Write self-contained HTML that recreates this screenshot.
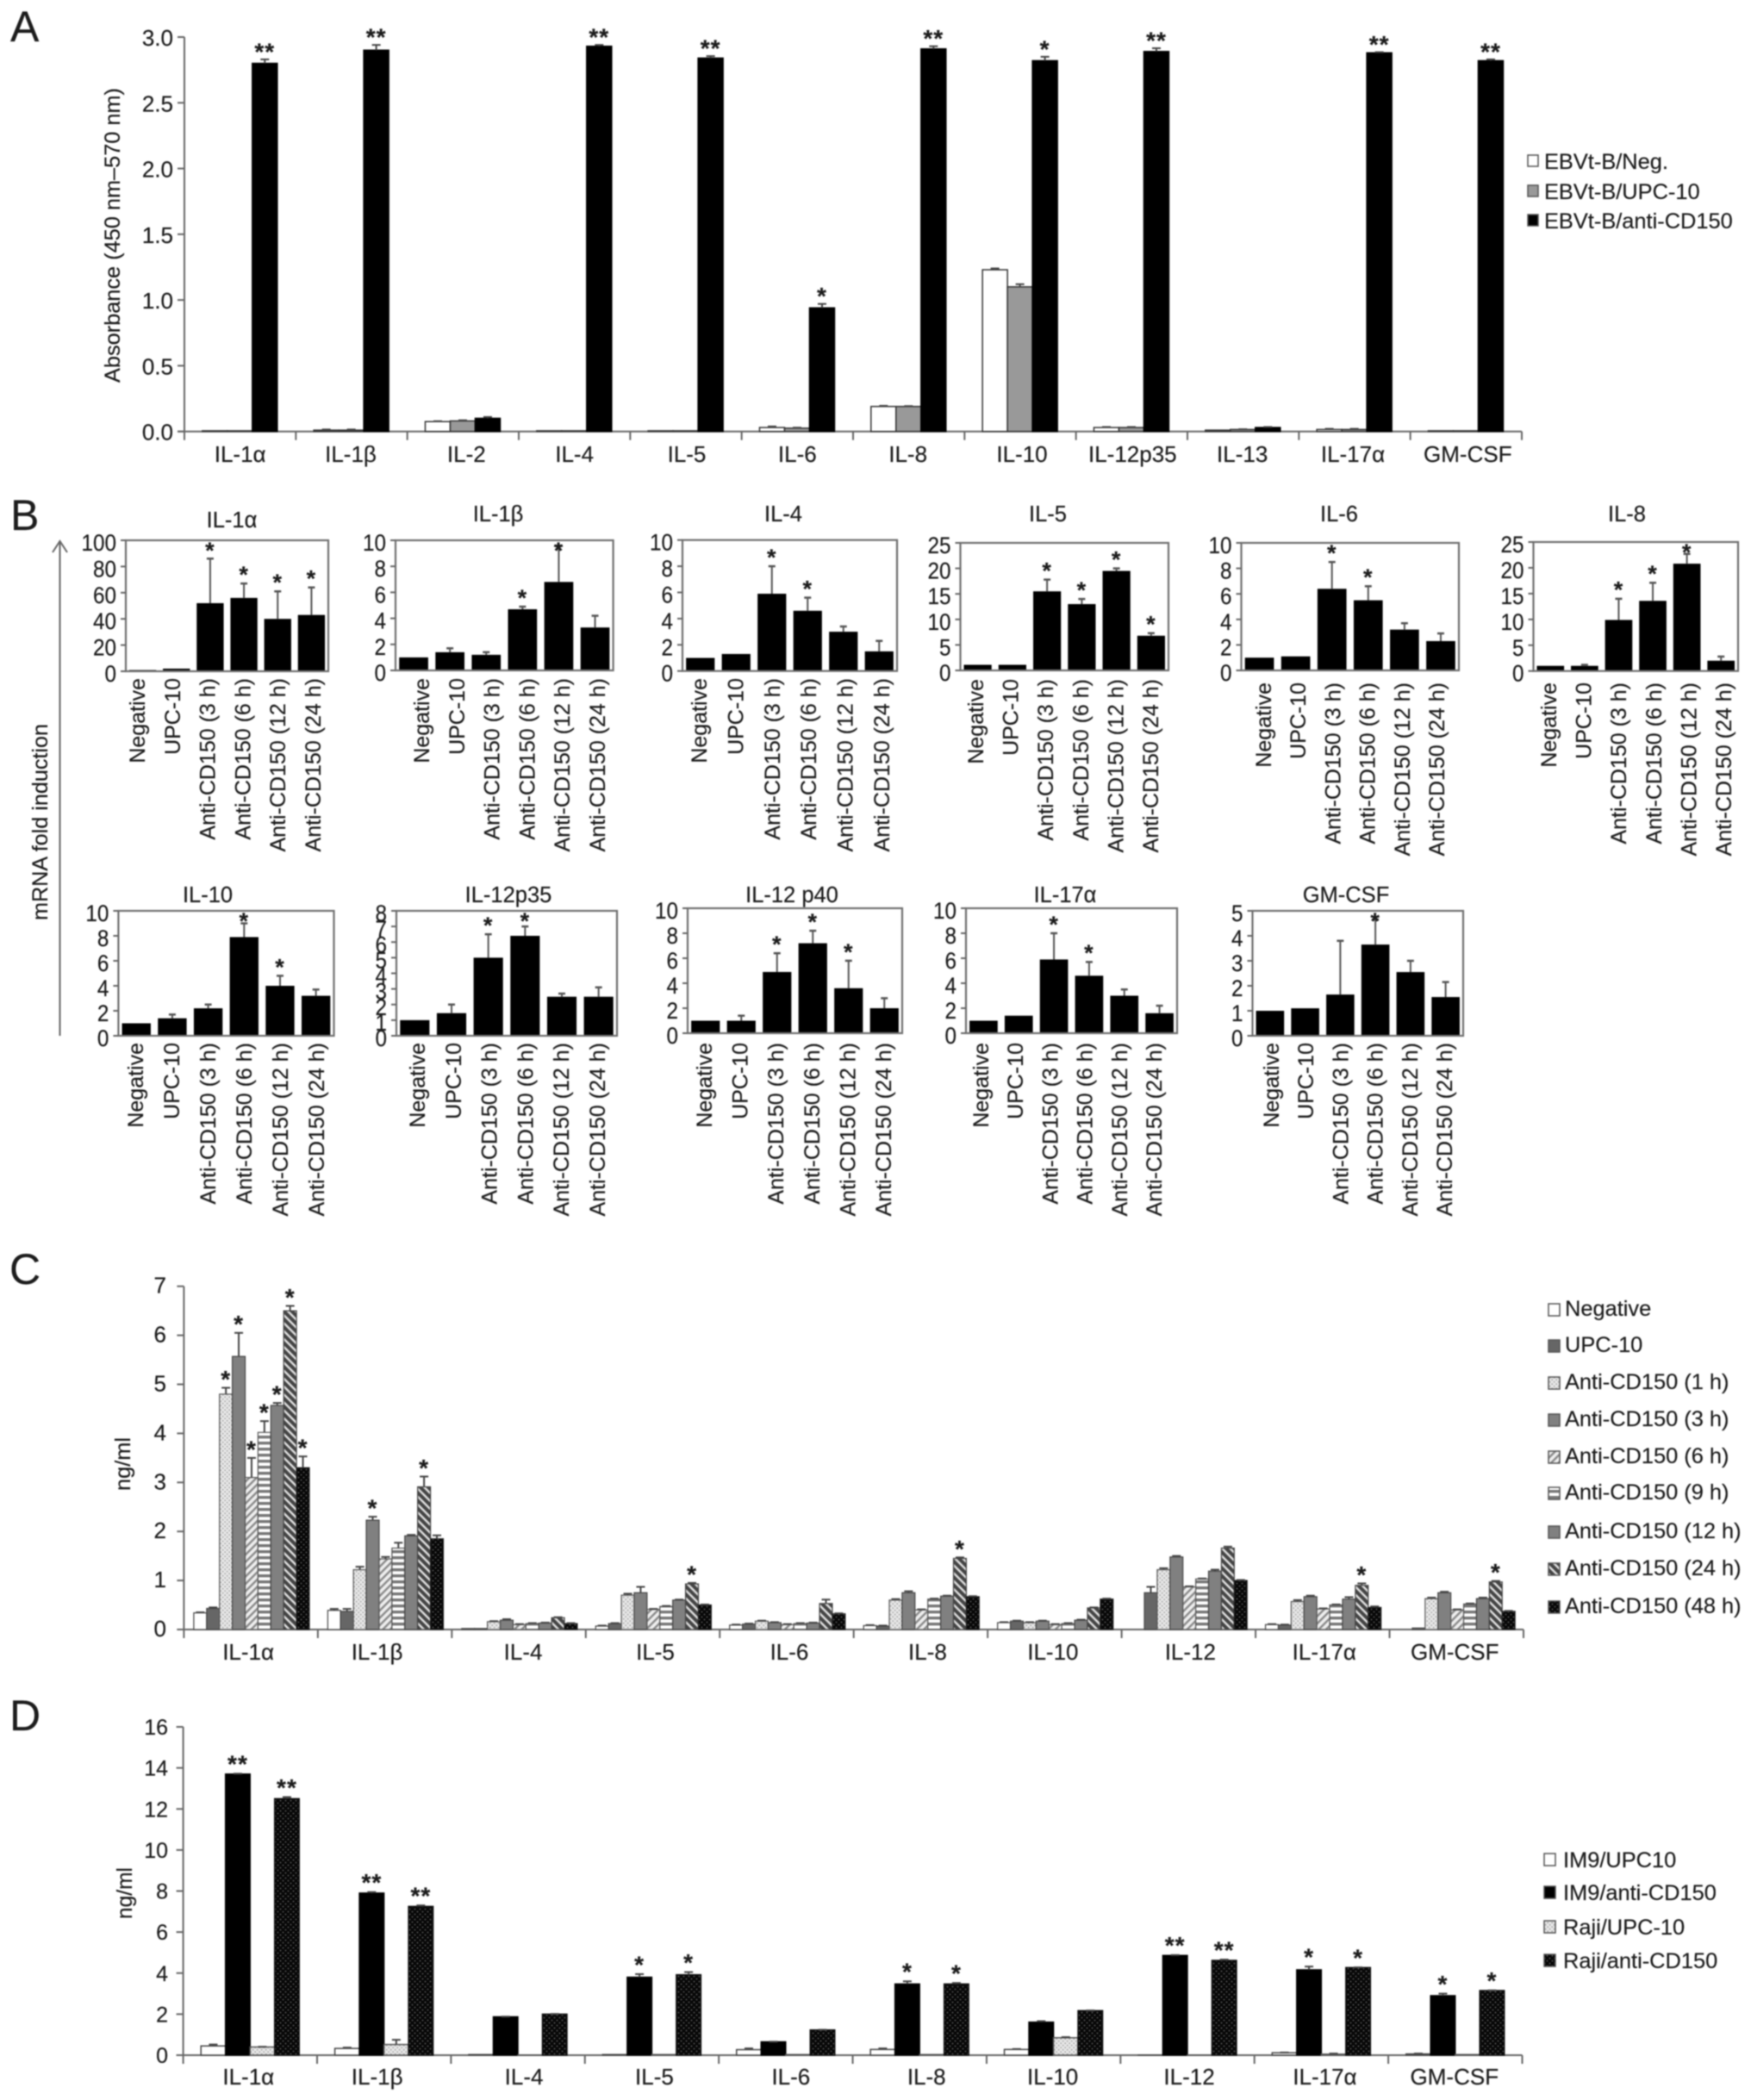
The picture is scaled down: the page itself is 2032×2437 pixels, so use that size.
<!DOCTYPE html>
<html lang="en">
<head>
<meta charset="utf-8">
<title>Cytokine expression after anti-CD150 stimulation</title>
<style>
html,body{margin:0;padding:0;background:#fff;}
#figure{display:block;filter:blur(0.7px);background:#fff;}
text{font-family:"Liberation Sans",Arial,sans-serif;fill:#1c1c1c;stroke:#1c1c1c;stroke-width:0.2px;}
</style>
</head>
<body>
<svg id="figure" xmlns="http://www.w3.org/2000/svg" width="2032" height="2437" viewBox="0 0 2032 2437">
<defs>
<pattern id="p-dots-light" width="5" height="5" patternUnits="userSpaceOnUse"><rect width="5" height="5" fill="#e6e6e6"/><circle cx="1.2" cy="1.2" r="0.8" fill="#999"/><circle cx="3.7" cy="3.7" r="0.8" fill="#999"/></pattern>
<pattern id="p-diag-light" width="6" height="6" patternUnits="userSpaceOnUse" patternTransform="rotate(45)"><rect width="6" height="6" fill="#eee"/><rect width="2.4" height="6" fill="#8a8a8a"/></pattern>
<pattern id="p-hstripe" width="7" height="7" patternUnits="userSpaceOnUse"><rect width="7" height="7" fill="#fff"/><rect width="7" height="3.4" fill="#777"/></pattern>
<pattern id="p-diag-dark" width="6.5" height="6.5" patternUnits="userSpaceOnUse" patternTransform="rotate(-45)"><rect width="6.5" height="6.5" fill="#ddd"/><rect width="4" height="6.5" fill="#444"/></pattern>
<pattern id="p-dots-black" width="6" height="6" patternUnits="userSpaceOnUse"><rect width="6" height="6" fill="#080808"/><circle cx="1.5" cy="1.5" r="0.8" fill="#777"/><circle cx="4.5" cy="4.5" r="0.8" fill="#777"/></pattern>
</defs>
</svg>
<script>
/* ---------- Panel A data ---------- */
const aCategories = ['IL-1α','IL-1β','IL-2','IL-4','IL-5','IL-6','IL-8','IL-10','IL-12p35','IL-13','IL-17α','GM-CSF'];
const aTicks = [0,0.5,1,1.5,2,2.5,3];
const aNeg = [0.005,0.01,0.075,0.005,0.005,0.03,0.19,1.23,0.03,0.01,0.015,0.005];
const aUpc = [0.005,0.01,0.08,0.005,0.005,0.025,0.19,1.10,0.03,0.015,0.015,0.005];
const aAnti = [2.80,2.90,0.10,2.93,2.84,0.94,2.91,2.82,2.89,0.03,2.88,2.82];
const aNegErr = [0,0.005,0.003,0,0,0.008,0.005,0.01,0.004,0,0.005,0];
const aUpcErr = [0,0.005,0.005,0,0,0.004,0.003,0.02,0.004,0.002,0.005,0];
const aAntiErr = [0.03,0.04,0.01,0.01,0.015,0.03,0.02,0.03,0.025,0.004,0.005,0.01];
const aStars = [2,2,0,2,2,1,2,1,2,0,2,2];
const aLegend = ['EBVt-B/Neg.','EBVt-B/UPC-10','EBVt-B/anti-CD150'];

/* ---------- Panel B data ---------- */
const bCategories = ['Negative','UPC-10','Anti-CD150 (3 h)','Anti-CD150 (6 h)','Anti-CD150 (12 h)','Anti-CD150 (24 h)'];
const bIl1aValues = [1,2,52,56,40,43];
const bIl1aErrors = [0,0,34,11,21,21];
const bIl1aStars = [0,0,1,1,1,1];
const bIl1aTicks = [0,20,40,60,80,100];
const bIl1bValues = [1,1.4,1.2,4.7,6.8,3.3];
const bIl1bErrors = [0,0.3,0.2,0.2,2.8,0.9];
const bIl1bStars = [0,0,0,1,1,0];
const bIl1bTicks = [0,2,4,6,8,10];
const bIl4Values = [1,1.3,5.9,4.6,3,1.5];
const bIl4Errors = [0,0,2.1,1,0.4,0.8];
const bIl4Stars = [0,0,1,1,0,0];
const bIl4Ticks = [0,2,4,6,8,10];
const bIl5Values = [1.1,1.1,15.5,13,19.5,6.8];
const bIl5Errors = [0,0,2.3,1,0.5,0.5];
const bIl5Stars = [0,0,1,1,1,1];
const bIl5Ticks = [0,5,10,15,20,25];
const bIl6Values = [1,1.1,6.4,5.5,3.2,2.3];
const bIl6Errors = [0,0,2.1,1.1,0.5,0.6];
const bIl6Stars = [0,0,1,1,0,0];
const bIl6Ticks = [0,2,4,6,8,10];
const bIl8Values = [1,1,9.9,13.6,20.8,2];
const bIl8Errors = [0,0.2,4.1,3.5,1.9,0.8];
const bIl8Stars = [0,0,1,1,1,0];
const bIl8Ticks = [0,5,10,15,20,25];
const bIl10Values = [1,1.4,2.2,7.9,4,3.2];
const bIl10Errors = [0,0.3,0.3,1.1,0.8,0.5];
const bIl10Stars = [0,0,0,1,1,0];
const bIl10Ticks = [0,2,4,6,8,10];
const bP35Values = [1,1.45,5,6.4,2.5,2.5];
const bP35Errors = [0,0.55,1.5,0.6,0.2,0.6];
const bP35Stars = [0,0,1,1,0,0];
const bP35Ticks = [0,1,2,3,4,5,6,7,8];
const bP40Values = [1,1,4.9,7.2,3.6,2];
const bP40Errors = [0,0.4,1.5,1,2.2,0.8];
const bP40Stars = [0,0,1,1,1,0];
const bP40Ticks = [0,2,4,6,8,10];
const bIl17Values = [1,1.4,5.9,4.6,3,1.6];
const bIl17Errors = [0,0,2.1,1.1,0.5,0.6];
const bIl17Stars = [0,0,1,1,0,0];
const bIl17Ticks = [0,2,4,6,8,10];
const bGmValues = [1,1.1,1.65,3.65,2.55,1.55];
const bGmErrors = [0,0,2.15,1,0.45,0.6];
const bGmStars = [0,0,0,1,0,0];
const bGmTicks = [0,1,2,3,4,5];

/* ---------- Panel C data ---------- */
const cCategories = ['IL-1α','IL-1β','IL-4','IL-5','IL-6','IL-8','IL-10','IL-12','IL-17α','GM-CSF'];
const cTicks = [0,1,2,3,4,5,6,7];
const cNegative = [0.34,0.39,0.02,0.07,0.09,0.08,0.14,0,0.1,0];
const cUpc10 = [0.43,0.37,0.02,0.12,0.11,0.07,0.17,0.75,0.09,0.03];
const cH1 = [4.8,1.22,0.16,0.7,0.17,0.6,0.14,1.22,0.57,0.63];
const cH3 = [5.57,2.23,0.19,0.75,0.14,0.75,0.17,1.48,0.67,0.75];
const cH6 = [3.1,1.44,0.1,0.41,0.1,0.4,0.1,0.87,0.42,0.4];
const cH9 = [4.02,1.66,0.12,0.47,0.12,0.62,0.12,1.03,0.5,0.52];
const cH12 = [4.57,1.91,0.13,0.6,0.13,0.68,0.19,1.19,0.62,0.63];
const cH24 = [6.5,2.91,0.24,0.93,0.53,1.45,0.44,1.66,0.9,0.97];
const cH48 = [3.3,1.85,0.12,0.5,0.32,0.67,0.62,1.0,0.45,0.37];
const cNegativeErr = [0.01,0.03,0,0.01,0.01,0.01,0.01,0,0.01,0];
const cUpc10Err = [0.02,0.05,0,0.01,0.01,0.01,0.01,0.12,0.01,0];
const cH1Err = [0.13,0.06,0.01,0.03,0.01,0.02,0.01,0.03,0.03,0.02];
const cH3Err = [0.48,0.07,0.02,0.12,0.01,0.03,0.01,0.02,0.02,0.02];
const cH6Err = [0.4,0.04,0.01,0.01,0.01,0.01,0.01,0.01,0.01,0.01];
const cH9Err = [0.23,0.11,0.01,0.01,0.01,0.01,0.01,0.01,0.01,0.01];
const cH12Err = [0.05,0.02,0.01,0.01,0.01,0.01,0.01,0.03,0.04,0.02];
const cH24Err = [0.1,0.21,0.01,0.02,0.08,0.02,0.01,0.03,0.04,0.02];
const cH48Err = [0.23,0.07,0.01,0.01,0.01,0.01,0.01,0.01,0.02,0.01];
const cNoStars = [0,0,0,0,0,0,0,0,0,0];
const cH1Stars = [1,0,0,0,0,0,0,0,0,0];
const cH3Stars = [1,1,0,0,0,0,0,0,0,0];
const cH6Stars = [1,0,0,0,0,0,0,0,0,0];
const cH9Stars = [1,0,0,0,0,0,0,0,0,0];
const cH12Stars = [1,0,0,0,0,0,0,0,0,0];
const cH24Stars = [1,1,0,1,0,1,0,0,1,1];
const cH48Stars = [1,0,0,0,0,0,0,0,0,0];
const cLegend = ['Negative','UPC-10','Anti-CD150 (1 h)','Anti-CD150 (3 h)','Anti-CD150 (6 h)','Anti-CD150 (9 h)','Anti-CD150 (12 h)','Anti-CD150 (24 h)','Anti-CD150 (48 h)'];

/* ---------- Panel D data ---------- */
const dCategories = ['IL-1α','IL-1β','IL-4','IL-5','IL-6','IL-8','IL-10','IL-12','IL-17α','GM-CSF'];
const dTicks = [0,2,4,6,8,10,12,14,16];
const dIm9Upc = [0.45,0.33,0.03,0.03,0.27,0.28,0.28,0.01,0.12,0.06];
const dIm9Anti = [13.7,7.9,1.87,3.8,0.65,3.47,1.61,4.86,4.16,2.9];
const dRajiUpc = [0.4,0.52,0.01,0.03,0.03,0.03,0.85,0.01,0.05,0.03];
const dRajiAnti = [12.5,7.25,2.0,3.92,1.23,3.47,2.17,4.62,4.27,3.15];
const dIm9UpcErr = [0.07,0.04,0,0,0.06,0.05,0.02,0,0.01,0.02];
const dIm9AntiErr = [0.02,0.05,0.01,0.15,0.01,0.13,0.05,0.02,0.16,0.1];
const dRajiUpcErr = [0.01,0.23,0,0,0,0,0.03,0,0.03,0];
const dRajiAntiErr = [0.08,0.05,0.01,0.13,0.01,0.05,0.01,0.04,0.01,0.01];
const dIm9Stars = [2,2,0,1,0,1,0,2,1,1];
const dRajiStars = [2,2,0,1,0,1,0,2,1,1];
const dLegend = ['IM9/UPC10','IM9/anti-CD150','Raji/UPC-10','Raji/anti-CD150'];

/* ---------- Helpers ---------- */
const NS = 'http://www.w3.org/2000/svg';
const svg = document.getElementById('figure');
const AXIS = '#666';

function make(tag, attrs, parent) {
  const node = document.createElementNS(NS, tag);
  for (const k in attrs) node.setAttribute(k, attrs[k]);
  parent.appendChild(node);
  return node;
}
function write(parent, str, x, y, size, anchor, rotate, len) {
  const attrs = {x: x, y: y, 'font-size': size, 'text-anchor': anchor || 'start'};
  if (rotate) attrs.transform = 'rotate(-90 ' + x + ' ' + y + ')';
  if (len) { attrs.textLength = len; attrs.lengthAdjust = 'spacingAndGlyphs'; }
  const t = make('text', attrs, parent);
  t.textContent = str;
  return t;
}
function line(parent, x1, y1, x2, y2, color, width) {
  return make('line', {x1: x1, y1: y1, x2: x2, y2: y2, stroke: color, 'stroke-width': width}, parent);
}
function stars(parent, count, cx, cy, size) {
  const t = make('text', {x: cx, y: cy + size * 0.55, 'font-size': size, 'font-weight': 700, 'text-anchor': 'middle', 'letter-spacing': 1}, parent);
  t.textContent = '*'.repeat(count);
  return t;
}

/* ---------- Grouped bar panels (A, C, D) ---------- */
function drawGrouped(cfg) {
  const g = make('g', {}, svg);
  
  
  const yPx = v => cfg.y0 - (v / cfg.max) * (cfg.y0 - cfg.yTop);
  const step = (cfg.x1 - cfg.x0) / cfg.categories.length;

  const xAxis = line(g, cfg.x0 - 8, cfg.y0, cfg.x1, cfg.y0, AXIS, 2);
  
  

  cfg.series.forEach(s => {
    cfg.categories.forEach((cat, i) => {
      const x = cfg.x0 + i * step + cfg.pad + s.index * cfg.barW;
      const top = yPx(s.values[i]);
      const bar = make('rect', {x: x, y: top, width: cfg.barW, height: Math.max(cfg.y0 - top, 0), fill: s.fill, stroke: s.stroke, 'stroke-width': cfg.barStroke}, g);
      
      
      const errTop = yPx(s.values[i] + s.errors[i]);
      if (s.errors[i] > 0) {
        const whisker = line(g, x + cfg.barW / 2, top, x + cfg.barW / 2, errTop, cfg.errColor, 2);
        
        
        const cap = line(g, x + cfg.barW / 2 - 5, errTop, x + cfg.barW / 2 + 5, errTop, cfg.errColor, 2);
        
        
      }
      if (s.stars[i] > 0) {
        const mark = stars(g, s.stars[i], x + cfg.barW / 2, errTop - cfg.starGap, cfg.starSize);
        
        
      }
    });
  });

  const yAxis = line(g, cfg.x0, cfg.yTop, cfg.x0, cfg.y0 + 10, AXIS, 2);
  
  

  cfg.ticks.forEach(v => {
    const tick = line(g, cfg.x0 - 8, yPx(v), cfg.x0, yPx(v), AXIS, 2);
    
    
    const lbl = write(g, cfg.tickFormat(v), cfg.tickRight, yPx(v) + cfg.tickDy, cfg.tickSize, 'end');
    
    
  });
  cfg.categories.forEach((cat, i) => {
    const tick = line(g, cfg.x0 + (i + 1) * step, cfg.y0, cfg.x0 + (i + 1) * step, cfg.y0 + 10, AXIS, 2);
    
    
    const lbl = write(g, cat, cfg.x0 + (i + 0.5) * step + cfg.labelNudge[i], cfg.labelY, cfg.labelSize, 'middle');
    
    
  });

  const title = write(g, cfg.yTitle, cfg.yTitleX, cfg.yTitleY, 25, 'middle', true, cfg.yTitleLen);
  
  

  const letter = write(g, cfg.letter, cfg.letterX, cfg.letterY, 50);
  
  

  cfg.legend.forEach((entry, i) => {
    const e = make('g', {}, g);
    
    
    const sw = make('rect', {x: cfg.legendX, y: cfg.legendBase[i] - cfg.swatch, width: cfg.swatch - 1, height: cfg.swatch, fill: cfg.legendFills[i], stroke: '#555', 'stroke-width': 1.5}, e);
    
    
    const t = write(e, entry, cfg.legendTextX, cfg.legendBase[i] + cfg.legendDy, 25.4);
    
    
  });
}

/* ---------- Small-multiple panels (B) ---------- */
function drawSmall(p) {
  const g = make('g', {}, svg);
  
  
  const yPx = v => p.y0 - (v / p.max) * (p.y0 - p.yTop);
  const step = (p.x1 - p.x0) / bCategories.length;

  bCategories.forEach((cat, i) => {
    const x = p.x0 + i * step + step * 0.1;
    const top = yPx(p.values[i]);
    const bar = make('rect', {x: x, y: top, width: step * 0.8, height: p.y0 - top, fill: '#000'}, g);
    
    
    const errTop = yPx(p.values[i] + p.errors[i]);
    if (p.errors[i] > 0) {
      const whisker = line(g, x + step * 0.4, top, x + step * 0.4, errTop, '#555', 2);
      
      
      const cap = line(g, x + step * 0.4 - 4, errTop, x + step * 0.4 + 4, errTop, '#555', 2.5);
      
      
    }
    if (p.stars[i] > 0) {
      const mark = stars(g, p.stars[i], x + step * 0.4, Math.max(errTop - 16, p.yTop + 6), 27);
      
      
    }
    const bx = p.lx0 + i * (p.lx1 - p.lx0) / (bCategories.length - 1);
    const lbl = write(g, cat, bx, p.ly, 25, 'end', true);
    
    
  });

  const frame = make('rect', {x: p.x0, y: p.yTop, width: p.x1 - p.x0, height: p.y0 - p.yTop, fill: 'none', stroke: '#707070', 'stroke-width': 2.2}, g);
  
  

  p.ticks.forEach(v => {
    const tick = line(g, p.x0 - 6, yPx(v), p.x0, yPx(v), AXIS, 2);
    
    
    const s = String(v);
    const lbl = write(g, s, p.x0 - 11, yPx(v) + 12, 27, 'end', false, s.length * 13.5);
    
    
  });

  const title = write(g, p.title, p.tx, p.ty, 25.5, 'middle');
  
  
}

/* ---------- Build: Panel A ---------- */
const aSeries = [
  {key: 'neg', index: 0, values: aNeg, errors: aNegErr, stars: aNeg.map(() => 0), fill: '#fff', stroke: '#333'},
  {key: 'upc', index: 1, values: aUpc, errors: aUpcErr, stars: aUpc.map(() => 0), fill: '#999', stroke: '#333'},
  {key: 'anti', index: 2, values: aAnti, errors: aAntiErr, stars: aStars, fill: '#000', stroke: '#000'}
];
drawGrouped({
  name: 'panel-a-absorbance-chart', letter: 'A', letterX: 12, letterY: 48,
  categories: aCategories, series: aSeries, ticks: aTicks, max: 3,
  x0: 214, x1: 1766, yTop: 43, y0: 500.7, pad: 20.8, barW: 29, barStroke: 1.5, errColor: '#444',
  starGap: 15, starSize: 28,
  tickFormat: v => v.toFixed(1), tickRight: 201, tickDy: 10, tickSize: 26,
  labelNudge: [0,-1,4,0,1,0,-1,2,1,-1,-2,2], labelY: 536, labelSize: 26,
  yTitle: 'Absorbance (450 nm–570 nm)', yTitleX: 139, yTitleY: 273, yTitleLen: 342,
  legend: aLegend, legendFills: ['#fff','#999','#000'], legendBase: [193,228,262], legendX: 1773, swatch: 13, legendTextX: 1792, legendDy: 3
});

/* ---------- Build: Panel B ---------- */
const arrowG = make('g', {}, svg);


line(arrowG, 69.5, 628, 69.5, 1202, '#666', 2);
make('path', {d: 'M61 641 L69.5 628 L78 641', fill: 'none', stroke: '#666', 'stroke-width': 2}, arrowG);
const bLetter = write(svg, 'B', 12, 615, 50);


const bAxisTitle = write(svg, 'mRNA fold induction', 55, 954, 25, 'middle', true, 228);



drawSmall({title:'IL-1α', values:bIl1aValues, errors:bIl1aErrors, stars:bIl1aStars, ticks:bIl1aTicks, max:100, x0:146, x1:381, yTop:627, y0:779, tx:269, ty:612, lx0:168, lx1:372, ly:787});
drawSmall({title:'IL-1β', values:bIl1bValues, errors:bIl1bErrors, stars:bIl1bStars, ticks:bIl1bTicks, max:10, x0:459, x1:711.6, yTop:627, y0:778, tx:578, ty:605, lx0:498, lx1:702, ly:787});
drawSmall({title:'IL-4', values:bIl4Values, errors:bIl4Errors, stars:bIl4Stars, ticks:bIl4Ticks, max:10, x0:792, x1:1041, yTop:626.7, y0:778.7, tx:909, ty:605, lx0:820, lx1:1032, ly:787});
drawSmall({title:'IL-5', values:bIl5Values, errors:bIl5Errors, stars:bIl5Stars, ticks:bIl5Ticks, max:25, x0:1114.5, x1:1356, yTop:630, y0:778, tx:1216, ty:605, lx0:1141, lx1:1344, ly:788});
drawSmall({title:'IL-6', values:bIl6Values, errors:bIl6Errors, stars:bIl6Stars, ticks:bIl6Ticks, max:10, x0:1440.5, x1:1693, yTop:630, y0:778, tx:1554, ty:605, lx0:1475, lx1:1676, ly:792});
drawSmall({title:'IL-8', values:bIl8Values, errors:bIl8Errors, stars:bIl8Stars, ticks:bIl8Ticks, max:25, x0:1779.5, x1:2017, yTop:629, y0:778.7, tx:1888, ty:605, lx0:1806, lx1:2009, ly:792});
drawSmall({title:'IL-10', values:bIl10Values, errors:bIl10Errors, stars:bIl10Stars, ticks:bIl10Ticks, max:10, x0:137.4, x1:387.5, yTop:1057, y0:1202, tx:241, ty:1047, lx0:166, lx1:376, ly:1210});
drawSmall({title:'IL-12p35', values:bP35Values, errors:bP35Errors, stars:bP35Stars, ticks:bP35Ticks, max:8, x0:460, x1:716, yTop:1057, y0:1202, tx:590, ty:1047, lx0:493, lx1:702, ly:1210});
drawSmall({title:'IL-12 p40', values:bP40Values, errors:bP40Errors, stars:bP40Stars, ticks:bP40Ticks, max:10, x0:798, x1:1047, yTop:1054, y0:1199, tx:919, ty:1047, lx0:826, lx1:1034, ly:1210});
drawSmall({title:'IL-17α', values:bIl17Values, errors:bIl17Errors, stars:bIl17Stars, ticks:bIl17Ticks, max:10, x0:1121, x1:1366, yTop:1054, y0:1199, tx:1236, ty:1047, lx0:1147, lx1:1348, ly:1210});
drawSmall({title:'GM-CSF', values:bGmValues, errors:bGmErrors, stars:bGmStars, ticks:bGmTicks, max:5, x0:1453.5, x1:1698, yTop:1057, y0:1202, tx:1562, ty:1047, lx0:1484, lx1:1685, ly:1210});

/* ---------- Build: Panel C ---------- */
const cFills = ['#fff','#666','url(#p-dots-light)','#808080','url(#p-diag-light)','url(#p-hstripe)','#808080','url(#p-diag-dark)','url(#p-dots-black)'];
const cSeries = [
  {key:'negative', index:0, values:cNegative, errors:cNegativeErr, stars:cNoStars, fill:cFills[0], stroke:'#444'},
  {key:'upc-10', index:1, values:cUpc10, errors:cUpc10Err, stars:cNoStars, fill:cFills[1], stroke:'#444'},
  {key:'anti-cd150-1h', index:2, values:cH1, errors:cH1Err, stars:cH1Stars, fill:cFills[2], stroke:'#555'},
  {key:'anti-cd150-3h', index:3, values:cH3, errors:cH3Err, stars:cH3Stars, fill:cFills[3], stroke:'#444'},
  {key:'anti-cd150-6h', index:4, values:cH6, errors:cH6Err, stars:cH6Stars, fill:cFills[4], stroke:'#555'},
  {key:'anti-cd150-9h', index:5, values:cH9, errors:cH9Err, stars:cH9Stars, fill:cFills[5], stroke:'#555'},
  {key:'anti-cd150-12h', index:6, values:cH12, errors:cH12Err, stars:cH12Stars, fill:cFills[6], stroke:'#444'},
  {key:'anti-cd150-24h', index:7, values:cH24, errors:cH24Err, stars:cH24Stars, fill:cFills[7], stroke:'#444'},
  {key:'anti-cd150-48h', index:8, values:cH48, errors:cH48Err, stars:cH48Stars, fill:cFills[8], stroke:'#222'}
];
drawGrouped({
  name: 'panel-c-protein-time-course-chart', letter: 'C', letterX: 11, letterY: 1490,
  categories: cCategories, series: cSeries, ticks: cTicks, max: 7,
  x0: 213.4, x1: 1768, yTop: 1492.7, y0: 1891, pad: 11.5, barW: 14.9, barStroke: 1.2, errColor: '#444',
  starGap: 16, starSize: 28,
  tickFormat: v => String(v), tickRight: 193, tickDy: 8, tickSize: 26,
  labelNudge: [-3,-9,5,3,3,8,-2,2,2,-2], labelY: 1926, labelSize: 26,
  yTitle: 'ng/ml', yTitleX: 151, yTitleY: 1699, yTitleLen: 62,
  legend: cLegend, legendFills: cFills, legendBase: [1527,1569,1612,1655,1698,1740,1785,1828,1872], legendX: 1797, swatch: 14, legendTextX: 1816, legendDy: 0
});

/* ---------- Build: Panel D ---------- */
const dFills = ['#fff','#000','url(#p-dots-light)','url(#p-dots-black)'];
const dNoStars = dCategories.map(() => 0);
const dSeries = [
  {key:'im9-upc10', index:0, values:dIm9Upc, errors:dIm9UpcErr, stars:dNoStars, fill:dFills[0], stroke:'#444'},
  {key:'im9-anti-cd150', index:1, values:dIm9Anti, errors:dIm9AntiErr, stars:dIm9Stars, fill:dFills[1], stroke:'#000'},
  {key:'raji-upc-10', index:2, values:dRajiUpc, errors:dRajiUpcErr, stars:dNoStars, fill:dFills[2], stroke:'#555'},
  {key:'raji-anti-cd150', index:3, values:dRajiAnti, errors:dRajiAntiErr, stars:dRajiStars, fill:dFills[3], stroke:'#111'}
];
drawGrouped({
  name: 'panel-d-cell-line-chart', letter: 'D', letterX: 11, letterY: 2008,
  categories: dCategories, series: dSeries, ticks: dTicks, max: 16,
  x0: 212.6, x1: 1766.5, yTop: 2004, y0: 2385, pad: 20.6, barW: 28.5, barStroke: 1.5, errColor: '#444',
  starGap: 17, starSize: 28,
  tickFormat: v => String(v), tickRight: 195, tickDy: 9, tickSize: 25,
  labelNudge: [-2,-8,7,3,6,8,-1,2,4,-1], labelY: 2419, labelSize: 26,
  yTitle: 'ng/ml', yTitleX: 153, yTitleY: 2197, yTitleLen: 60,
  legend: dLegend, legendFills: dFills, legendBase: [2165,2203,2243,2282], legendX: 1792, swatch: 14, legendTextX: 1814, legendDy: 2
});
</script>
</body>
</html>
